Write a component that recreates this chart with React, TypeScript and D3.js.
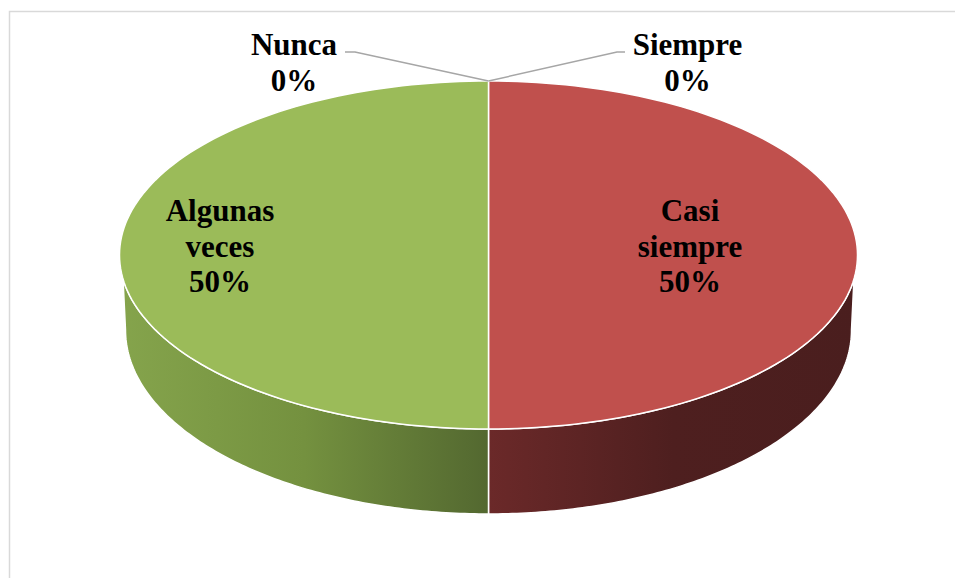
import React from "react";
import * as d3 from "d3";

const categories = ["Siempre", "Casi siempre", "Algunas veces", "Nunca"];
const values = [0, 50, 50, 0];
const labelLines = [["Siempre"], ["Casi", "siempre"], ["Algunas", "veces"], ["Nunca"]];

const W = 955;
const H = 578;
const cx = 488.5;
const cy = 255;
const rx = 369;
const ry = 174;
const cxb = 488.5;
const cyb = 330;
const rxb = 363;
const ryb = 184;
// top-face angle where side wall becomes visible (perspective tangent)
const sideY = 279;
const aR = Math.acos(-(sideY - cy) / ry);
const aL = 2 * Math.PI - aR;

const topColors = ["#4f81bd", "#c0504d", "#9bbb59", "#8064a2"];

const labelPos: Record<string, { x: number; y: number; leader?: [number, number][] }> = {
  Siempre: { x: 687.5, y: 55, leader: [[625, 52], [617, 52]] },
  "Casi siempre": { x: 690, y: 221 },
  "Algunas veces": { x: 220, y: 221 },
  Nunca: { x: 294, y: 55, leader: [[345, 52], [355, 52]] },
};

function topPt(a: number): [number, number] {
  return [cx + rx * Math.sin(a), cy - ry * Math.cos(a)];
}
function botPt(a: number): [number, number] {
  return [cxb + rxb * Math.sin(a), cyb - ryb * Math.cos(a)];
}

function samples(a0: number, a1: number, n = 120): number[] {
  const out: number[] = [];
  for (let i = 0; i <= n; i++) out.push(a0 + ((a1 - a0) * i) / n);
  return out;
}

export default function App() {
  const pie = d3.pie<number>().sort(null).value((d) => d);
  const arcs = pie(values);
  const total = d3.sum(values);
  const line = d3.line();

  const sides: JSX.Element[] = [];
  const tops: JSX.Element[] = [];
  arcs.forEach((a, i) => {
    if (a.endAngle - a.startAngle <= 0) return;
    const pts = samples(a.startAngle, a.endAngle).map(topPt);
    const d = line([[cx, cy], ...pts])! + "Z";
    tops.push(
      <path key={"t" + i} d={d} fill={topColors[i]} stroke="#ffffff" strokeWidth={1.5} strokeLinejoin="round" />
    );
    const t0 = Math.max(a.startAngle, aR);
    const t1 = Math.min(a.endAngle, aL);
    const b0 = Math.max(a.startAngle, Math.PI / 2);
    const b1 = Math.min(a.endAngle, (3 * Math.PI) / 2);
    if (t1 > t0 && b1 > b0) {
      const tp = samples(t0, t1).map(topPt);
      const bp = samples(b0, b1).map(botPt).reverse();
      const sd = line([...tp, ...bp])! + "Z";
      sides.push(
        <path key={"s" + i} d={sd} fill={`url(#side${i})`} stroke="#ffffff" strokeWidth={1.5} strokeLinejoin="round" />
      );
    }
  });

  const labels = arcs.map((a, i) => {
    const name = categories[i];
    const pos = labelPos[name];
    const pct = Math.round((values[i] / total) * 100) + "%";
    const lines = [...labelLines[i], pct];
    let leader: JSX.Element | null = null;
    if (pos.leader) {
      const mid = (a.startAngle + a.endAngle) / 2;
      const p = topPt(mid);
      leader = (
        <polyline
          points={[...pos.leader, p].map((q) => q.join(",")).join(" ")}
          fill="none"
          stroke="#a6a6a6"
          strokeWidth={1.5}
        />
      );
    }
    return (
      <g key={"l" + i}>
        {leader}
        <text
          x={pos.x}
          y={pos.y}
          textAnchor="middle"
          fontFamily="'Liberation Serif', 'Times New Roman', serif"
          fontWeight="bold"
          fontSize={31}
          fill="#000"
        >
          {lines.map((t, j) => (
            <tspan key={j} x={pos.x} y={pos.y + j * 35.5}>
              {t}
            </tspan>
          ))}
        </text>
      </g>
    );
  });

  return (
    <svg width={W} height={H} style={{ position: "absolute", left: 0, top: 0, background: "#fff" }}>
      <defs>
        <linearGradient id="side2" gradientUnits="userSpaceOnUse" x1={cx - rx} y1={0} x2={cx} y2={0}>
          <stop offset="0" stopColor="#85a44c" />
          <stop offset="0.5" stopColor="#74913f" />
          <stop offset="1" stopColor="#536830" />
        </linearGradient>
        <linearGradient id="side1" gradientUnits="userSpaceOnUse" x1={cx} y1={0} x2={cx + rx} y2={0}>
          <stop offset="0" stopColor="#6b2929" />
          <stop offset="0.5" stopColor="#4e1f1f" />
          <stop offset="1" stopColor="#4a1e1e" />
        </linearGradient>
        <linearGradient id="side0" gradientUnits="userSpaceOnUse" x1={cx} y1={0} x2={cx + rx} y2={0}>
          <stop offset="0" stopColor="#3a5f8a" />
          <stop offset="1" stopColor="#2c4a6e" />
        </linearGradient>
        <linearGradient id="side3" gradientUnits="userSpaceOnUse" x1={cx - rx} y1={0} x2={cx} y2={0}>
          <stop offset="0" stopColor="#6a5388" />
          <stop offset="1" stopColor="#4d3c63" />
        </linearGradient>
      </defs>
      <rect x={9.5} y={11.5} width={W + 10} height={H + 10} fill="none" stroke="#d9d9d9" strokeWidth={1.5} />
      {sides}
      {tops}
      {labels}
    </svg>
  );
}
